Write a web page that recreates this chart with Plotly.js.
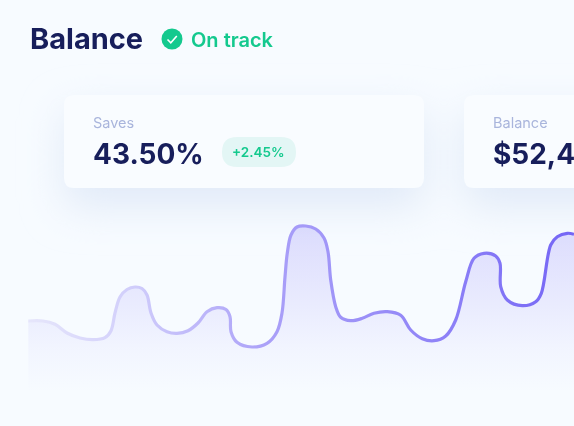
<!DOCTYPE html>
<html><head><meta charset="utf-8">
<script src="https://cdn.plot.ly/plotly-3.0.1.min.js"></script>
<style>html,body{margin:0;padding:0;background:#f7fbff;overflow:hidden}#c{width:574px;height:426px;filter:blur(0.4px)}</style>
</head><body><div id="c"></div>
<script>
const W = 574, H = 426;
const BASE_Y = 426;
const curveX = [28.3,43,55,67,80,93,105,111,115,120,127,135,142,147,151,157,167,177,188,198,207,217,226,230,231,237,252,267,277,282,285,287.3,291,297,305.7,315.7,324,328,330.7,335.7,340.7,350.7,362.3,374,387.3,400.7,410.7,422.3,434,445.7,455.7,465.7,474,484,495.7,500,500.7,507.3,522.3,535.7,541.3,550.7,557.3,567.3,574];
const curveYpx = [321,321,324.3,333,338,339.7,337.7,330.7,313,297,289.5,287,288.5,295,313,325,331.7,333.3,330.7,323,311.7,307.7,309.5,316.7,331.7,342.3,347,343.3,331.7,313,277,253,235,227,226,229,238,251.7,280,306.7,317.3,320.7,318.3,313.3,311.7,315.3,330,338.7,340.7,336,320,281.7,258.3,253.3,256,263.3,286.7,300,305.7,301.7,293.3,245,236.7,233.3,234.3];
const curveValues = curveYpx.map(v => BASE_Y - v);

const titleText = "Balance", statusText = "On track";
const card1Label = "Saves", card1Value = "43.50%", card1Delta = "+2.45%";
const card2Label = "Balance", card2Value = "$52,430";

const BG = "#f7fbff", NAVY = "#171e5b", GREEN = "#14c98e", MUTED = "#a9b5dc";
const px = x => x / W, py = y => 1 - y / H;

function rr(x0, y0, x1, y1, r) {
  const X0 = px(x0), X1 = px(x1), Y0 = py(y0), Y1 = py(y1), rx = r / W, ry = r / H;
  return `M${X0 + rx},${Y0} L${X1 - rx},${Y0} Q${X1},${Y0} ${X1},${Y0 - ry} L${X1},${Y1 + ry} Q${X1},${Y1} ${X1 - rx},${Y1} L${X0 + rx},${Y1} Q${X0},${Y1} ${X0},${Y1 + ry} L${X0},${Y0 - ry} Q${X0},${Y0} ${X0 + rx},${Y0} Z`;
}
const pathShape = (path, fill) => ({type:"path", xref:"paper", yref:"paper", path, fillcolor:fill, line:{width:0}, layer:"below"});

const shadowSvg = `<svg xmlns="http://www.w3.org/2000/svg" width="${W}" height="${H}"><defs><filter id="b" x="-40%" y="-80%" width="180%" height="260%"><feGaussianBlur stdDeviation="20"/></filter></defs><g filter="url(#b)" fill="#e1eaf8"><rect x="64" y="112" width="360" height="95" rx="12"/><rect x="464" y="112" width="200" height="95" rx="12"/></g></svg>`;
const uri = s => "data:image/svg+xml;base64," + btoa(s);
const fullImg = (s, layer) => ({source:uri(s), xref:"paper", yref:"paper", x:0, y:1, sizex:1, sizey:1, xanchor:"left", yanchor:"top", sizing:"stretch", layer});

const PAD = 2;
const ann = (text, x, y, size, color, weight) => ({
  text, xref:"paper", yref:"paper", x:px(x - PAD), y:py(y), xanchor:"left", yanchor:"middle", showarrow:false,
  font:{family:"Inter", size, color, weight:weight || 400}
});

const trace = {
  x: curveX, y: curveValues, type:"scatter", mode:"lines", hoverinfo:"skip",
  line:{shape:"spline", smoothing:1, color:"#7766f6", width:3.2},
  fill:"tozeroy",
  fillgradient:{type:"vertical", start:426-226, stop:426-392, colorscale:[[0,"rgba(119,102,246,0.21)"],[0.5,"rgba(119,102,246,0.10)"],[0.75,"rgba(119,102,246,0.04)"],[1,"rgba(119,102,246,0)"]]}
};

const layout = {
  width:W, height:H, margin:{l:0,r:0,t:0,b:0}, paper_bgcolor:BG, plot_bgcolor:"rgba(0,0,0,0)", showlegend:false,
  xaxis:{range:[0,W], visible:false, fixedrange:true},
  yaxis:{range:[0,H], visible:false, fixedrange:true},
  images:[fullImg(shadowSvg,"below")],
  shapes:[
    pathShape(rr(64,95,424,188,10), "#f9fcff"),
    pathShape(rr(464,95,640,188,10), "#f9fcff"),
    pathShape(rr(222,137,296,167,15), "#e3f6f5"),
    {type:"circle", xref:"paper", yref:"paper", x0:px(161.5), x1:px(182.5), y0:py(49.5), y1:py(28.5), fillcolor:GREEN, line:{width:0}, layer:"below"},
    {type:"path", xref:"paper", yref:"paper", path:`M${px(167.5)},${py(39.5)} L${px(170.8)},${py(42.8)} L${px(176.8)},${py(36)}`, line:{color:"#ffffff",width:1.6}, layer:"below"}
  ],
  annotations:[
    ann(titleText,30,39,29,NAVY,700),
    ann(statusText,191,40,20,GREEN,600),
    ann(card1Label,93,122,14.5,MUTED),
    ann(card1Value,93,154,28,NAVY,700),
    ann(card1Delta,232,152,13.5,GREEN,600),
    ann(card2Label,493,122,14.5,MUTED),
    ann(card2Value,493,154,28,NAVY,700)
  ]
};
Plotly.newPlot("c",[trace],layout,{staticPlot:true,displayModeBar:false}).then(gd => {
  const svg = gd.querySelector("svg.main-svg");
  const NS = "http://www.w3.org/2000/svg";
  const g = document.createElementNS(NS, "linearGradient");
  g.setAttribute("id", "lineFade");
  g.setAttribute("gradientUnits", "userSpaceOnUse");
  g.setAttribute("x1", 28); g.setAttribute("x2", W); g.setAttribute("y1", 0); g.setAttribute("y2", 0);
  [[0,"#e6e6fb"],[0.15,"#d6d4fb"],[0.45,"#a99ff8"],[0.75,"#8f83f7"],[1,"#7465f5"]].forEach(([o,c]) => {
    const s = document.createElementNS(NS, "stop");
    s.setAttribute("offset", o); s.setAttribute("stop-color", c); g.appendChild(s);
  });
  svg.querySelector("defs").appendChild(g);
  gd.querySelectorAll(".scatterlayer .js-line").forEach(p => { p.style.stroke = "url(#lineFade)"; });
});
</script></body></html>
